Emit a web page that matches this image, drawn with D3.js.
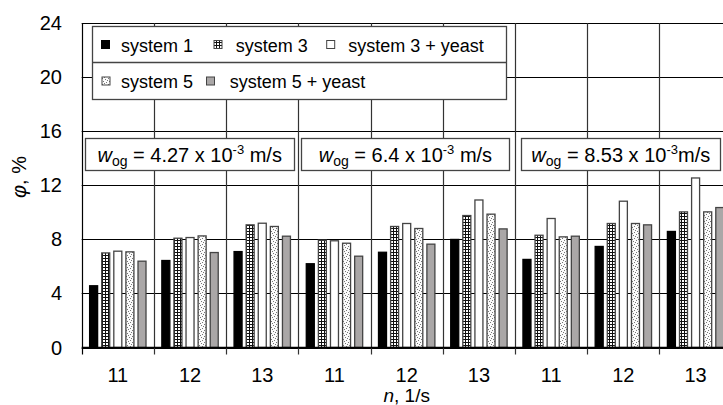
<!DOCTYPE html>
<html>
<head>
<meta charset="utf-8">
<script src="https://cdn.jsdelivr.net/npm/d3@7"></script>
<style>
  html, body { margin: 0; padding: 0; background: #fff; }
  svg { display: block; font-family: "Liberation Sans", Arial, sans-serif; }
</style>
</head>
<body>
<svg id="chart" width="723" height="405"></svg>
<script>
const categories = ["11", "12", "13", "11", "12", "13", "11", "12", "13"];
const series_names = ["system 1", "system 3", "system 3 + yeast", "system 5", "system 5 + yeast"];
const system_1 = [4.57, 6.44, 7.1, 6.2, 7.05, 8.0, 6.52, 7.48, 8.59];
const system_3 = [7.0, 8.09, 9.08, 7.95, 8.96, 9.77, 8.31, 9.18, 10.04];
const system_3_yeast = [7.13, 8.14, 9.2, 7.9, 9.18, 10.92, 9.55, 10.83, 12.55];
const system_5 = [7.08, 8.26, 8.96, 7.72, 8.81, 9.87, 8.19, 9.18, 10.04];
const system_5_yeast = [6.39, 7.03, 8.24, 6.76, 7.65, 8.78, 8.24, 9.08, 10.36];
const y_ticks = [0, 4, 8, 12, 16, 20, 24];
const wog_labels = [
    { value: "4.27", unit: " m/s" },
    { value: "6.4", unit: " m/s" },
    { value: "8.53", unit: "m/s" }
];

const series_values = [system_1, system_3, system_3_yeast, system_5, system_5_yeast];
const fills = ["#000", "url(#grid)", "#fff", "url(#dots)", "#aaa7a7"];
const strokes = ["#000", "#444", "#444", "#444", "#444"];

const svg = d3.select("#chart");

// patterns for the hatched bars
const defs = svg.append("defs");
const grid = defs.append("pattern").attr("id", "grid")
    .attr("patternUnits", "userSpaceOnUse").attr("width", 3).attr("height", 3);
grid.append("rect").attr("width", 3).attr("height", 3).attr("fill", "#fff");
grid.append("path").attr("d", "M0,0.5H3M0.5,0V3").attr("stroke", "#111").attr("stroke-width", 1);

const dots = defs.append("pattern").attr("id", "dots")
    .attr("patternUnits", "userSpaceOnUse").attr("width", 6).attr("height", 6);
dots.append("rect").attr("width", 6).attr("height", 6).attr("fill", "#fbfbfb");
[[0, 0], [3, 1], [1, 3], [4, 4], [5, 2], [2, 5]].forEach(p => {
    dots.append("rect").attr("x", p[0]).attr("y", p[1]).attr("width", 1).attr("height", 1)
        .attr("fill", "#777");
});

const x_scale = d3.scaleBand()
    .domain(d3.range(categories.length))
    .range([81.7, 731.7]);
const x_inner = d3.scaleBand()
    .domain(d3.range(series_names.length))
    .range([0, x_scale.bandwidth()])
    .paddingInner(0.256)
    .paddingOuter(0.613);
const y_scale = d3.scaleLinear()
    .domain([0, 24])
    .range([347.5, 23.3]);

// horizontal grid lines
svg.append("g")
    .selectAll("line")
    .data(y_ticks)
    .join("line")
    .attr("x1", 81.7).attr("x2", 731.7)
    .attr("y1", d => Math.round(y_scale(d)) + 0.5)
    .attr("y2", d => Math.round(y_scale(d)) + 0.5)
    .attr("stroke", "#000").attr("stroke-width", 1.2);

// vertical separators between groups, with ticks below the axis
svg.append("g")
    .selectAll("line")
    .data(d3.range(categories.length + 1))
    .join("line")
    .attr("x1", d => Math.round(81.7 + d * x_scale.step()) + 0.5)
    .attr("x2", d => Math.round(81.7 + d * x_scale.step()) + 0.5)
    .attr("y1", y_scale(24))
    .attr("y2", y_scale(0) + 7)
    .attr("stroke", d => d === 0 ? "#000" : "#333").attr("stroke-width", 1.2);

// bars
const groups = svg.append("g")
    .selectAll("g")
    .data(series_values)
    .join("g");
groups.each(function(values, si) {
    d3.select(this).selectAll("rect")
        .data(values)
        .join("rect")
        .attr("x", (d, i) => x_scale(i) + x_inner(si) + 0.5)
        .attr("y", d => y_scale(d))
        .attr("width", x_inner.bandwidth() - 1)
        .attr("height", d => y_scale(0) - y_scale(d))
        .attr("fill", fills[si])
        .attr("stroke", strokes[si])
        .attr("stroke-width", 1.3);
});

// axis baseline
svg.append("line")
    .attr("x1", 81.7).attr("x2", 731.7)
    .attr("y1", y_scale(0)).attr("y2", y_scale(0))
    .attr("stroke", "#000").attr("stroke-width", 1.3);

// y tick labels
svg.append("g")
    .selectAll("text")
    .data(y_ticks)
    .join("text")
    .attr("x", 62)
    .attr("y", d => y_scale(d) + 7)
    .attr("text-anchor", "end")
    .attr("font-size", 20)
    .text(d => d);

// x tick labels
svg.append("g")
    .selectAll("text")
    .data(categories)
    .join("text")
    .attr("x", (d, i) => x_scale(i) + x_scale.bandwidth() / 2)
    .attr("y", 382)
    .attr("text-anchor", "middle")
    .attr("font-size", 20)
    .text(d => d);

// axis titles
const x_title = svg.append("text")
    .attr("x", x_scale(4) + x_scale.bandwidth() / 2)
    .attr("y", 402)
    .attr("text-anchor", "middle")
    .attr("font-size", 19);
x_title.append("tspan").attr("font-style", "italic").text("n");
x_title.append("tspan").text(", 1/s");

const y_title = svg.append("text")
    .attr("transform", "translate(26,177) rotate(-90)")
    .attr("text-anchor", "middle")
    .attr("font-size", 20);
y_title.append("tspan").attr("font-style", "italic").text("φ");
y_title.append("tspan").text(", %");

// legend box
const legend = svg.append("g");
legend.append("rect")
    .attr("x", 92.5).attr("y", 26.5).attr("width", 414).attr("height", 73)
    .attr("fill", "#fff").attr("stroke", "#444").attr("stroke-width", 1.3);
legend.append("line")
    .attr("x1", 92.5).attr("x2", 506.5).attr("y1", 62.5).attr("y2", 62.5)
    .attr("stroke", "#444").attr("stroke-width", 1.3);
const legend_pos = [[101.5, 45, 121], [214, 45, 235.7], [326.7, 45, 348.3], [102, 81.5, 121], [206.5, 81.5, 229.7]];
series_names.forEach((name, si) => {
    const p = legend_pos[si];
    legend.append("rect")
        .attr("x", p[0]).attr("y", p[1] - 4.5).attr("width", 8).attr("height", 8)
        .attr("fill", fills[si]).attr("stroke", strokes[si]).attr("stroke-width", 1);
    legend.append("text")
        .attr("x", p[2]).attr("y", p[1] + 6.5)
        .attr("font-size", 18)
        .text(name);
});

// w_og boxes
const box_x = [[x_scale(0) + 3.3, x_scale(3) - 4], [x_scale(3) + 3, x_scale(6) - 5.5], [x_scale(6) + 6, 720.5]];
wog_labels.forEach((lab, i) => {
    const b = box_x[i];
    svg.append("rect")
        .attr("x", Math.round(b[0]) + 0.5).attr("y", 138.5)
        .attr("width", Math.round(b[1] - b[0])).attr("height", 32)
        .attr("fill", "#fff").attr("stroke", "#444").attr("stroke-width", 1.3);
    const t = svg.append("text")
        .attr("x", (b[0] + b[1]) / 2).attr("y", 162)
        .attr("text-anchor", "middle")
        .attr("font-size", 20);
    t.append("tspan").attr("font-style", "italic").text("w");
    t.append("tspan").attr("font-size", 14).attr("dy", 4).text("og");
    t.append("tspan").attr("dy", -4).text(" = " + lab.value + " x 10");
    t.append("tspan").attr("font-size", 13).attr("dy", -8).text("-3");
    t.append("tspan").attr("dy", 8).text(lab.unit);
});
</script>
</body>
</html>
